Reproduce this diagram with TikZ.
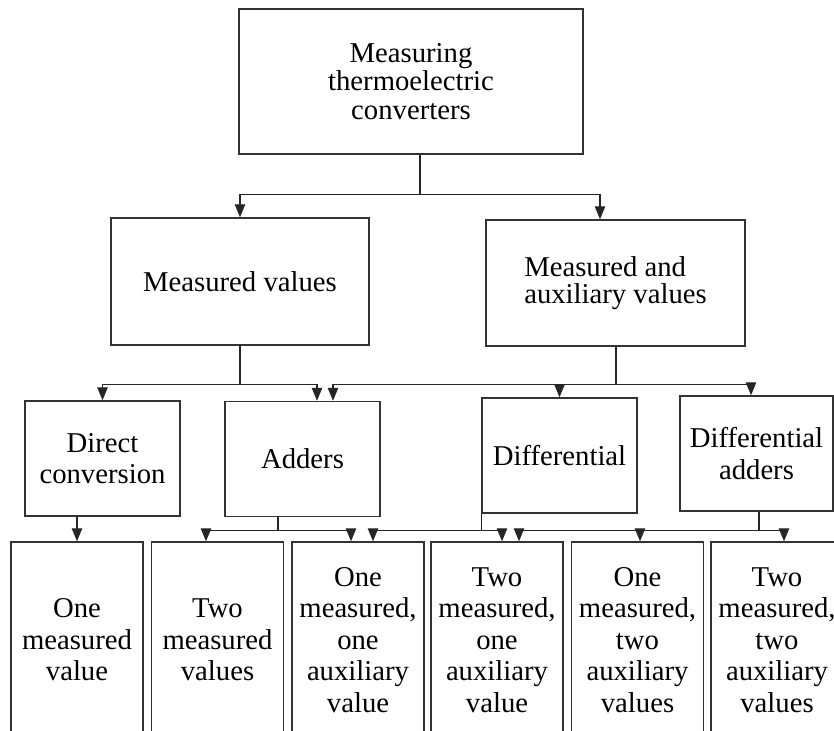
\documentclass[tikz,border=0pt]{standalone}
\usepackage{fontspec}
\setmainfont{Liberation Serif}
\usepackage{tikz}
\usetikzlibrary{arrows.meta,calc}

\begin{document}
\begin{tikzpicture}[x=0.5pt, y=-0.5pt,
  block/.style={draw=black!80, line width=0.7pt, inner sep=0pt, align=center, font=\fontsize{14.35}{15.7}\selectfont},
  group/.style={block, minimum width=77.5pt, minimum height=57.5pt},
  leaf/.style={block, minimum width=66pt, minimum height=98pt},
  link/.style={-{Triangle[length=6.5pt,width=5.2pt]}, line width=0.65pt, draw=black!85}
]
\path[use as bounding box, clip] (0,0) rectangle (834,731);
\node[block, minimum width=172pt, minimum height=72.5pt, font=\fontsize{14.35}{14.2}\selectfont] (top) at (411,81.5) {Measuring\\thermoelectric\\converters};
\node[block, minimum width=129pt, minimum height=63.5pt] (mv) at (240,281.5) {Measured values};
\node[block, minimum width=129.5pt, minimum height=63pt, align=left, font=\fontsize{14.35}{13.2}\selectfont] (mav) at (615.5,283) {Measured and\\auxiliary values};
\node[group] (dc) at (102.5,458.5) {Direct\\conversion};
\node[group] (add) at (302.5,459) {Adders};
\node[group] (dif) at (559.5,455.5) {Differential};
\node[group, minimum width=76.5pt] (difa) at (756.5,453.5) {Differential\\adders};
\node[leaf] (b1) at (77,640) {One\\measured\\value};
\node[leaf] (b2) at (217.5,640) {Two\\measured\\values};
\node[leaf] (b3) at (358,640) {One\\measured,\\one\\auxiliary\\value};
\node[leaf] (b4) at (497,640) {Two\\measured,\\one\\auxiliary\\value};
\node[leaf] (b5) at (637.5,640) {One\\measured,\\two\\auxiliary\\values};
\node[leaf] (b6) at (777,640) {Two\\measured,\\two\\auxiliary\\values};
\draw[link] ($(top.south)+(9,0)$) -- ++(0,40) -| (mv.north);
\draw[link] ($(top.south)+(9,0)$) -- ++(0,40) -| ($(mav.north)+(-15.5,0)$);
\draw[link] (mv.south) -- ++(0,39) -| (dc.north);
\draw[link] (mv.south) -- ++(0,39) -| ($(add.north)+(14.5,0)$);
\draw[link] ($(mav.south)+(0.5,0)$) -- ++(0,38) -| ($(add.north)+(30.5,0)$);
\draw[link] ($(mav.south)+(0.5,0)$) -- ++(0,38) -| (dif.north);
\draw[link] ($(mav.south)+(0.5,0)$) -- ++(0,38) -| ($(difa.north)+(-5.5,0)$);
\draw[link] (b1.north |- dc.south) -- (b1.north);
\draw[link] ($(add.south)+(-24.5,0)$) -- ++(0,13) -| ($(b2.north)+(-11.5,0)$);
\draw[link] ($(add.south)+(-24.5,0)$) -- ++(0,13) -| ($(b3.north)+(-7,0)$);
\draw[link] (dif.south west) -- ++(0,17) -| ($(b3.north)+(15,0)$);
\draw[link] (dif.south west) -- ++(0,17) -| ($(b4.north)+(5,0)$);
\draw[link] ($(difa.south)+(2.5,0)$) -- ++(0,19) -| ($(b4.north)+(22,0)$);
\draw[link] ($(difa.south)+(2.5,0)$) -- ++(0,19) -| ($(b5.north)+(2.5,0)$);
\draw[link] ($(difa.south)+(2.5,0)$) -- ++(0,19) -| ($(b6.north)+(7,0)$);
\end{tikzpicture}
\end{document}
